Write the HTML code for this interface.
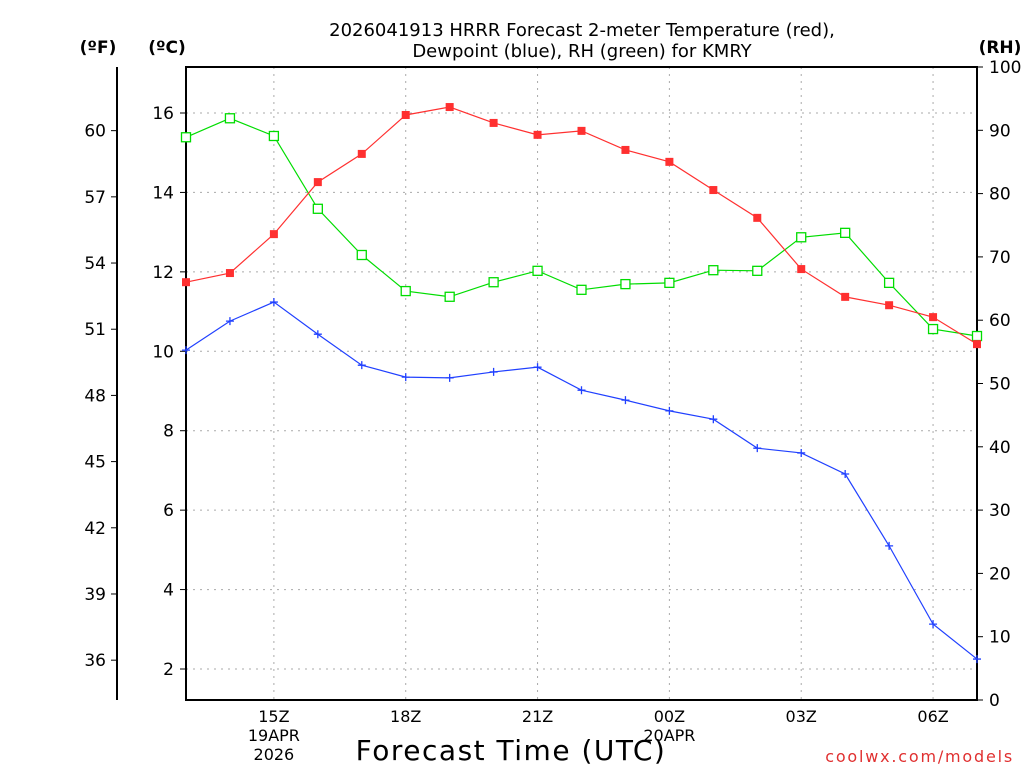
<!DOCTYPE html>
<html><head><meta charset="utf-8"><style>
html,body{margin:0;padding:0;background:#fff;}
svg{display:block;font-family:"DejaVu Sans","Liberation Sans",sans-serif;}
</style></head><body>
<svg id="chart" width="1024" height="768" viewBox="0 0 1024 768">
<text x="582" y="36" font-size="18" text-anchor="middle">2026041913 HRRR Forecast 2-meter Temperature (red),</text>
<text x="582" y="57" font-size="18" text-anchor="middle">Dewpoint (blue), RH (green) for KMRY</text>
<text x="98" y="53" font-size="17" font-weight="bold" text-anchor="middle">(ºF)</text>
<text x="167" y="53" font-size="17" font-weight="bold" text-anchor="middle">(ºC)</text>
<text x="1000" y="53" font-size="17" font-weight="bold" text-anchor="middle">(RH)</text>
<text x="511" y="760" font-size="28" letter-spacing="1.5" text-anchor="middle">Forecast Time (UTC)</text>
<text x="1014" y="762" font-size="16" letter-spacing="1.8" fill="#e03030" text-anchor="end">coolwx.com/models</text>
<g id="grid"></g><g id="axes"></g><g id="series"></g>
</svg>
<script>
const hours = [13,14,15,16,17,18,19,20,21,22,23,24,25,26,27,28,29,30,31];
const tempC = [11.74,11.97,12.95,14.26,14.97,15.95,16.15,15.75,15.45,15.55,15.07,14.77,14.06,13.36,12.07,11.37,11.16,10.86,10.18];
const dewC = [10.03,10.76,11.24,10.43,9.65,9.35,9.33,9.48,9.60,9.02,8.77,8.50,8.29,7.56,7.44,6.91,5.10,3.13,2.25];
const rh = [88.9,91.9,89.1,77.6,70.3,64.6,63.7,66.0,67.8,64.8,65.7,65.9,67.9,67.8,73.1,73.8,65.9,58.6,57.5];
const cTicks = [2,4,6,8,10,12,14,16];
const fTicks = [36,39,42,45,48,51,54,57,60];
const rhTicks = [0,10,20,30,40,50,60,70,80,90,100];
const xTickHours = [15,18,21,24,27,30];
const xTickLabels = ["15Z","18Z","21Z","00Z","03Z","06Z"];

const L=186,R=977,T=67,B=700;
const x=h=>L+(h-13)*(R-L)/18;
const yC=c=>113+(16-c)*39.714;
const yF=f=>yC((f-32)*5/9);
const yRH=v=>B-v*(B-T)/100;
const NS="http://www.w3.org/2000/svg";
function mk(tag,parent,attrs){const e=document.createElementNS(NS,tag);for(const k in attrs)e.setAttribute(k,attrs[k]);document.getElementById(parent).appendChild(e);return e;}

cTicks.forEach(c=>{
  const g=mk('line','grid',{x1:L,x2:R,y1:yC(c),y2:yC(c),stroke:'#aaa','stroke-dasharray':'2,5'});
  
  
  const t=mk('line','axes',{x1:L-6,x2:L,y1:yC(c),y2:yC(c),stroke:'#000'});
  
  
  const l=mk('text','axes',{x:L-12,y:yC(c)+6,'font-size':17,'text-anchor':'end'});l.textContent=c;
  
  
});
xTickHours.forEach((h,i)=>{
  const g=mk('line','grid',{x1:x(h),x2:x(h),y1:T,y2:B,stroke:'#aaa','stroke-dasharray':'2,5'});
  
  
  const l=mk('text','axes',{x:x(h),y:722,'font-size':16,'text-anchor':'middle'});l.textContent=xTickLabels[i];
  
  
});
[["19APR",15,741],["2026",15,760],["20APR",24,741]].forEach(d=>{
  const l=mk('text','axes',{x:x(d[1]),y:d[2],'font-size':16,'text-anchor':'middle'});l.textContent=d[0];
  
  
});
fTicks.forEach(f=>{
  const t=mk('line','axes',{x1:111,x2:117,y1:yF(f),y2:yF(f),stroke:'#000'});
  
  
  const l=mk('text','axes',{x:106,y:yF(f)+6,'font-size':17,'text-anchor':'end'});l.textContent=f;
  
  
});
rhTicks.forEach(v=>{
  const t=mk('line','axes',{x1:R,x2:R+6,y1:yRH(v),y2:yRH(v),stroke:'#000'});
  
  
  const l=mk('text','axes',{x:R+12,y:yRH(v)+6,'font-size':17});l.textContent=v;
  
  
});
const fa=mk('line','axes',{x1:117,x2:117,y1:T,y2:B,stroke:'#000','stroke-width':2});


const fr=mk('rect','axes',{x:L,y:T,width:R-L,height:B-T,fill:'none',stroke:'#000','stroke-width':2});



function series(vals,yf,color,name,marker){
  const pts=vals.map((v,i)=>x(hours[i])+','+yf(v)).join(' ');
  const p=mk('polyline','series',{points:pts,fill:'none',stroke:color,'stroke-width':1.2});
  
  
  vals.forEach((v,i)=>{
    const cx=x(hours[i]),cy=yf(v);let m;
    if(marker==='fill')m=mk('rect','series',{x:cx-4,y:cy-4,width:8,height:8,fill:color});
    else if(marker==='open')m=mk('rect','series',{x:cx-4.5,y:cy-4.5,width:9,height:9,fill:'#fff',stroke:color,'stroke-width':1.3});
    else m=mk('path','series',{d:`M${cx-4},${cy}H${cx+4}M${cx},${cy-4}V${cy+4}`,stroke:color,'stroke-width':1.3});
    
    
  });
}
series(rh,yRH,'#00dd00','rh','open');
series(tempC,yC,'#ff3030','temperature','fill');
series(dewC,yC,'#2040ff','dewpoint','plus');
</script>
</body></html>
